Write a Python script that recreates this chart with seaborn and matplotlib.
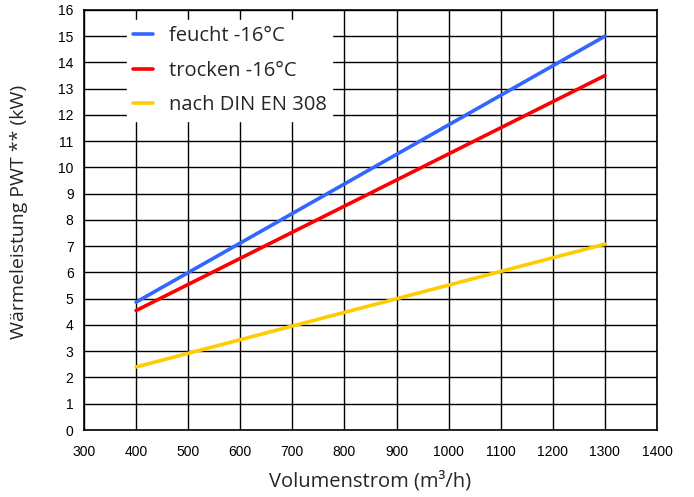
import matplotlib
matplotlib.use("Agg")
import matplotlib.pyplot as plt
import seaborn as sns
import pandas as pd

# Volumenstrom (m³/h) an den Endpunkten der Kennlinien
volumenstrom = [400, 1300]
feucht = [4.87, 15.0]
trocken = [4.55, 13.5]
din_en_308 = [2.4, 7.08]

serien = ["feucht -16°C", "trocken -16°C", "nach DIN EN 308"]
farben = ["#3366ff", "#ff0000", "#ffcc00"]

x_ticks = list(range(300, 1401, 100))
y_ticks = list(range(0, 17))

df = pd.DataFrame({
    "Volumenstrom": volumenstrom * 3,
    "Leistung": feucht + trocken + din_en_308,
    "Serie": [serien[0]] * 2 + [serien[1]] * 2 + [serien[2]] * 2,
})

sns.set_theme(style="white")
plt.rcParams["font.family"] = ["Liberation Sans", "DejaVu Sans"]

fig = plt.figure(figsize=(6.94, 4.97), dpi=100)
ax = fig.add_axes([0.121, 0.1348, 0.8257, 0.8452])

sns.lineplot(data=df, x="Volumenstrom", y="Leistung", hue="Serie",
             hue_order=serien, palette=farben, linewidth=2.6, ax=ax,
             legend=True)

ax.set_xlim(300, 1400)
ax.set_ylim(0, 16)
ax.set_xticks(x_ticks)
ax.set_yticks(y_ticks)
ax.grid(True, color="black", linewidth=1.0)
ax.set_axisbelow(True)
for s in ax.spines.values():
    s.set_color("black")
    s.set_linewidth(1.2)
ax.tick_params(axis="both", direction="inout", length=9, width=1.0,
               color="black", labelsize=10, labelcolor="black", pad=3)
ax.tick_params(axis="x", pad=6)

lab_font = ["Open Sans", "DejaVu Sans"]
ax.set_xlabel("Volumenstrom (m³/h)", fontsize=14.5, family=lab_font, va="center")
ax.set_ylabel("Wärmeleistung PWT ** (kW)", fontsize=14, family=lab_font, va="center")
ax.xaxis.set_label_coords(0.5, -0.123)
ax.yaxis.set_label_coords(-0.113, 0.52)

leg = ax.legend(loc="upper left", bbox_to_anchor=(0.058, 1.0), frameon=True,
                fancybox=False, framealpha=1.0, edgecolor="white",
                facecolor="white", prop={"family": lab_font, "size": 14.5},
                handlelength=1.0, handletextpad=0.75, labelspacing=0.72,
                borderpad=0.3)
for line in leg.get_lines():
    line.set_linewidth(2.6)

fig.savefig("out.png", dpi=100)
